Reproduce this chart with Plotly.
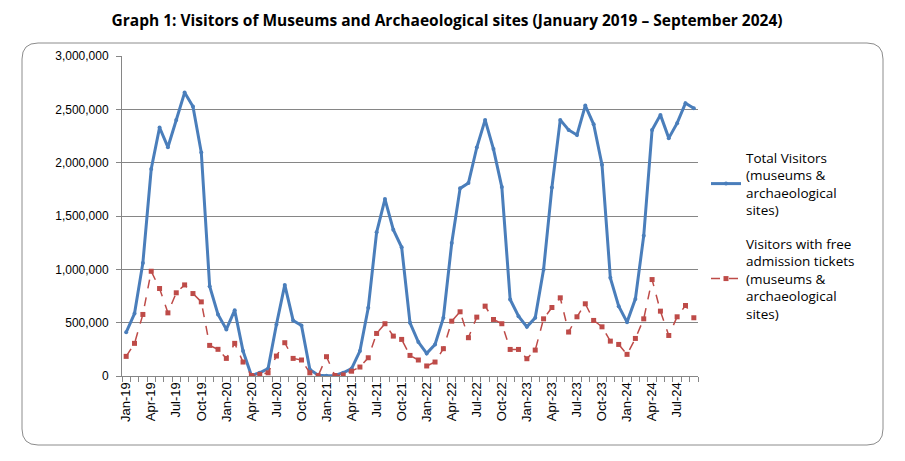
import plotly.graph_objects as go

# 月份标签 (Jan-19 ... Sep-24)
months = ['Jan', 'Feb', 'Mar', 'Apr', 'May', 'Jun', 'Jul', 'Aug', 'Sep', 'Oct', 'Nov', 'Dec']
month_labels = [m + '-' + str(y) for y in range(19, 25) for m in months][:69]

total_visitors = [
    410000, 586000, 1060000, 1940000, 2330000, 2145000, 2400000, 2657000, 2526000, 2095000, 842000, 577000,
    437000, 617000, 234000, 5000, 30000, 70000, 483000, 854000, 521000, 474000, 62000, 8000,
    3000, 5000, 30000, 70000, 234000, 639000, 1347000, 1659000, 1372000, 1207000, 499000, 318000,
    212000, 296000, 546000, 1247000, 1759000, 1809000, 2142000, 2401000, 2127000, 1771000, 717000, 561000,
    461000, 546000, 998000, 1768000, 2401000, 2307000, 2260000, 2535000, 2360000, 1980000, 920000, 655000,
    505000, 723000, 1316000, 2307000, 2448000, 2230000, 2370000, 2557000, 2510000,
]

free_visitors = [
    184000, 306000, 577000, 982000, 820000, 592000, 780000, 854000, 773000, 695000, 287000, 250000,
    165000, 306000, 131000, 5000, 15000, 30000, 187000, 312000, 165000, 150000, 30000, 3000,
    181000, 5000, 10000, 45000, 84000, 171000, 399000, 490000, 374000, 343000, 193000, 150000,
    94000, 131000, 256000, 514000, 602000, 359000, 552000, 655000, 530000, 490000, 249000, 249000,
    162000, 243000, 536000, 642000, 733000, 412000, 555000, 677000, 521000, 461000, 327000, 296000,
    203000, 352000, 536000, 904000, 608000, 380000, 555000, 661000, 546000,
]

x_idx = list(range(len(month_labels)))

fig = go.Figure()
fig.add_trace(go.Scatter(
    x=x_idx, y=total_visitors, mode='lines+markers',
    name='Total Visitors<br>(museums &<br>archaeological<br>sites)',
    line=dict(color='#4a7ebb', width=3),
    marker=dict(symbol='circle', size=4, color='#4a7ebb'),
    legendgroup='a',
))
fig.add_trace(go.Scatter(
    x=x_idx, y=free_visitors, mode='lines+markers',
    name='Visitors with free<br>admission tickets<br>(museums &<br>archaeological<br>sites)',
    line=dict(color='#be4b48', width=1.5, dash='dash'),
    marker=dict(symbol='square', size=5, color='#be4b48'),
    legendgroup='b',
))

# 外框（圆角矩形），用 paper 坐标
L, R, T, B = 122, 698, 56, 376
def px(x):
    return (x - L) / (R - L)
def py(y):
    return (B - y) / (B - T)

x0, x1, y0, y1, r = 22, 883, 43, 445, 16
path = (f"M {px(x0 + r)},{py(y0)} L {px(x1 - r)},{py(y0)} "
        f"Q {px(x1)},{py(y0)} {px(x1)},{py(y0 + r)} "
        f"L {px(x1)},{py(y1 - r)} Q {px(x1)},{py(y1)} {px(x1 - r)},{py(y1)} "
        f"L {px(x0 + r)},{py(y1)} Q {px(x0)},{py(y1)} {px(x0)},{py(y1 - r)} "
        f"L {px(x0)},{py(y0 + r)} Q {px(x0)},{py(y0)} {px(x0 + r)},{py(y0)} Z")
fig.add_shape(type='path', path=path, xref='paper', yref='paper',
              line=dict(color='#8c8c8c', width=1), layer='below')

fig.update_layout(
    width=905, height=461,
    margin=dict(l=L, r=905 - R, t=T, b=461 - B),
    paper_bgcolor='white', plot_bgcolor='white',
    font=dict(family='Liberation Sans', size=11, color='black'),
    title=dict(
        text='<b>Graph 1: Visitors of Museums and Archaeological sites (January 2019 \u2013 September 2024)</b>',
        x=0.494, xanchor='center', y=0.956, yanchor='middle',
        font=dict(family='Open Sans', size=15.5, color='black'),
    ),
    legend=dict(
        x=px(706), xanchor='left', y=py(142), yanchor='top',
        font=dict(family='Open Sans', size=13.5),
        tracegroupgap=13, bgcolor='rgba(0,0,0,0)',
    ),
    xaxis=dict(
        range=[-0.5, len(month_labels) - 0.5],
        tickvals=x_idx[::3], ticktext=month_labels[::3],
        tickangle=-90, ticks='',
        showline=True, linecolor='#868686', linewidth=1,
        showgrid=False, zeroline=False,
        minor=dict(ticks='outside', tick0=-0.5, dtick=1, ticklen=5, tickcolor='#868686', showgrid=False),
        tickfont=dict(size=13),
    ),
    yaxis=dict(
        range=[0, 3000000], dtick=500000, tickformat=',',
        showline=True, linecolor='#868686', linewidth=1,
        ticks='outside', ticklen=5, tickcolor='#868686',
        ticklabelstandoff=5,
        gridcolor='#868686', gridwidth=1, zeroline=False,
        tickfont=dict(size=12),
    ),
)

# 去掉页面默认边距，让图表从左上角开始
fig.write_html('out.html', config={'displayModeBar': False},
               post_script="document.body.style.margin='0';")
